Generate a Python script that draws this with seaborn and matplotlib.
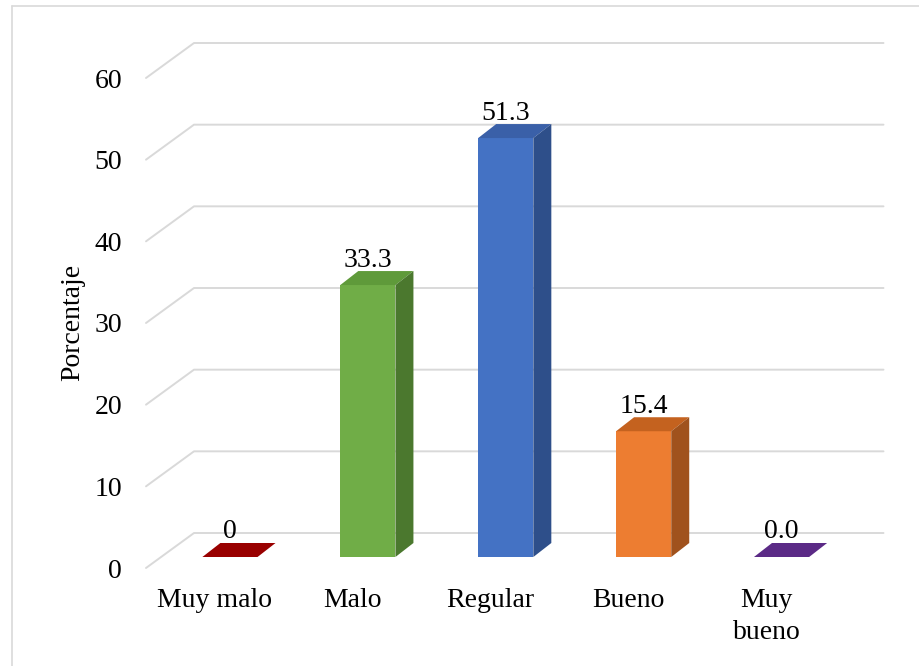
import matplotlib
matplotlib.use("Agg")
import matplotlib.pyplot as plt
import seaborn as sns
import pandas as pd
import numpy as np
from matplotlib.patches import Polygon
from matplotlib.lines import Line2D
from matplotlib.transforms import IdentityTransform, ScaledTranslation

# --- data ---
categorias = ["Muy malo", "Malo", "Regular", "Bueno", "Muy bueno"]
etiquetas_x = ["Muy malo", "Malo", "Regular", "Bueno", "Muy\nbueno"]
porcentajes = [0.0, 33.3, 51.3, 15.4, 0.0]
etiquetas_valor = ["0", "33.3", "51.3", "15.4", "0.0"]
ticks_y = [0, 10, 20, 30, 40, 50, 60]

# --- colours: front, top and side faces of each column ---
colores_frente = ["#990000", "#70AD47", "#4472C4", "#ED7D31", "#5B2A86"]
colores_tapa = ["#990000", "#5F9A3A", "#3A60A8", "#C4621F", "#5B2A86"]
colores_lado = ["#7A0000", "#4B782E", "#2E4F8A", "#A0521D", "#4A2270"]
color_grid = "#D9D9D9"

sns.set_theme(style="white")
plt.rcParams["font.family"] = ["Liberation Serif", "DejaVu Serif"]
FS = 20

fig = plt.figure(figsize=(9.2, 6.66), dpi=100)
W, H = 920, 666
ax = fig.add_axes([161 / W, 109 / H, 689.5 / W, 490 / H])

df = pd.DataFrame({"cat": categorias, "pct": porcentajes})
sns.barplot(data=df, x="cat", y="pct", hue="cat", order=categorias,
            hue_order=categorias, palette=colores_frente, saturation=1,
            width=0.4, linewidth=0, legend=False, ax=ax, zorder=3)
ax.set_xlim(-0.5, 4.5)
ax.set_ylim(0, 60)
ax.axis("off")

# perspective offsets in pixels (x right, y up): front wall, bar depth, back wall
FRONT = np.array([-15.0, -11.0])
DEPTH = np.array([18.0, 14.0])
BACK = np.array([33.0, 24.0])
ident = IdentityTransform()


def disp(x, y):
    return np.asarray(ax.transData.transform((x, y)), dtype=float)


# gridlines: floor-to-back-wall diagonal, then along the back wall
for v in ticks_y:
    left = disp(-0.5, v)
    right = disp(4.5, v)
    p0, p1, p2 = left + FRONT, left + BACK, right + BACK
    ax.add_line(Line2D([p0[0], p1[0], p2[0]], [p0[1], p1[1], p2[1]],
                       transform=ident, color=color_grid, lw=1.4,
                       zorder=1, clip_on=False))

# top and side faces of the columns
half = 0.2
for i, v in enumerate(porcentajes):
    a = disp(i - half, v)
    b = disp(i + half, v)
    top = [a, b, b + DEPTH, a + DEPTH]
    ax.add_patch(Polygon(top, closed=True, transform=ident,
                         facecolor=colores_tapa[i], edgecolor="none",
                         zorder=3, clip_on=False))
    if v > 0:
        base = disp(i + half, 0)
        side = [base, b, b + DEPTH, base + DEPTH]
        ax.add_patch(Polygon(side, closed=True, transform=ident,
                             facecolor=colores_lado[i], edgecolor="none",
                             zorder=3, clip_on=False))

# value labels above each column
for i, (v, t) in enumerate(zip(porcentajes, etiquetas_valor)):
    ax.annotate(t, (i, v), xytext=(0, 18.5 * 0.72), textcoords="offset points",
                ha="center", va="baseline", fontsize=FS, color="black",
                zorder=5, annotation_clip=False)

# y tick labels on the front wall
off_y = ScaledTranslation(-39 / 100, -11 / 100, fig.dpi_scale_trans)
for v in ticks_y:
    ax.text(0, v, str(v), transform=ax.get_yaxis_transform() + off_y,
            ha="right", va="center_baseline", fontsize=FS, color="black")

# category labels below the floor
off_x = ScaledTranslation(-15 / 100, -31 / 100, fig.dpi_scale_trans)
for i, lab in enumerate(etiquetas_x):
    ax.text(i, 0, lab, transform=ax.get_xaxis_transform() + off_x,
            ha="center", va="top", multialignment="center",
            linespacing=1.35, fontsize=FS, color="black")

fig.text(73 / W, 1 - 322 / H, "Porcentaje", rotation=90, ha="center",
         va="center", fontsize=FS, color="black")

# chart area border
fig.add_artist(Line2D([12 / W, 12 / W], [0, 1 - 6 / H], transform=fig.transFigure,
                      color=color_grid, lw=1.2))
fig.add_artist(Line2D([12 / W, 1], [1 - 6 / H, 1 - 6 / H], transform=fig.transFigure,
                      color=color_grid, lw=1.2))

fig.savefig("out.png", dpi=100, facecolor="white")
